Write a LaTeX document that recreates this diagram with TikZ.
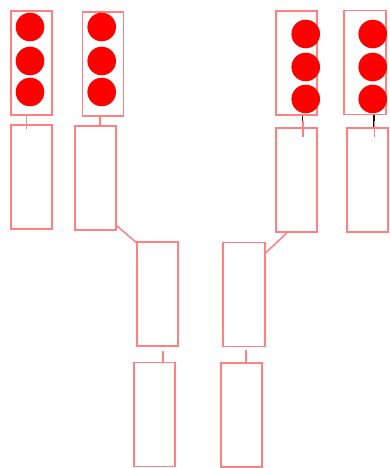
\documentclass[tikz,border=0pt]{standalone}
\usetikzlibrary{positioning}
\definecolor{rose}{RGB}{255,128,128}
\definecolor{lampred}{RGB}{255,0,0}
\definecolor{stem}{RGB}{20,20,20}
\tikzset{
  every picture/.style={line width=1.5pt},
  box/.style={draw=rose, fill=none, minimum width=41pt, minimum height=104pt, inner sep=0pt},
  lamp/.style={circle, fill=lampred, minimum size=28.6pt, inner sep=0pt},
  link/.style={draw=rose, line width=1.5pt},
  wire/.style={draw=stem, line width=1.5pt},
}

\begin{document}
\begin{tikzpicture}[x=1pt, y=-1pt]
  \useasboundingbox (0,0) rectangle (389,468);

  % signal heads
  \node[box] (head1) at (31.5,63) {};
  \node[box] (head2) at (103,64) {};
  \node[box] (head3) at (296.5,63) {};
  \node[box, minimum width=42pt] (head4) at (365,62.5) {};

  \node[lamp] (h1a) at (30,27) {};
  \node[lamp] (h1b) at (30,61) {};
  \node[lamp] (h1c) at (30,92) {};
  \node[lamp] (h2a) at (101.7,27) {};
  \node[lamp] (h2b) at (101.7,61) {};
  \node[lamp] (h2c) at (101.7,92) {};
  \node[lamp] (h3a) at (305.7,34) {};
  \node[lamp] (h3b) at (305.7,67) {};
  \node[lamp] (h3c) at (305.7,99) {};
  \node[lamp] (h4a) at (372.7,34) {};
  \node[lamp] (h4b) at (372.7,67) {};
  \node[lamp] (h4c) at (372.7,99) {};

  % posts
  \node[box] (post1) at (31.5,177) {};
  \node[box] (post2) at (95.5,178) {};
  \node[box] (post3) at (296.5,180) {};
  \node[box] (post4) at (367.5,180) {};

  % middle and lower blocks
  \node[box] (mid1) at (157.5,294) {};
  \node[box, minimum width=42pt] (mid2) at (244,294.5) {};
  \node[box] (base1) at (154.5,414.5) {};
  \node[box] (base2) at (241.5,415) {};

  % head to post
  \draw[wire, draw=gray!70] ([xshift=-4.8pt]head1.south) -- ([xshift=-4.8pt]head1.south |- post1.north);
  \draw[link] ([xshift=-4.8pt]head1.south |- post1.north) -- ([xshift=-4.8pt,yshift=-5pt]head1.south |- post1.north);
  \draw[link] ([xshift=-3pt]head2.south) -- ([xshift=-3pt]head2.south |- post2.north);
  \draw[wire] ([xshift=5.8pt]head3.south) -- ([xshift=5.8pt,yshift=-1pt]head3.south |- post3.north);
  \draw[link] ([xshift=6.5pt,yshift=6pt]head3.south |- post3.north) -- ([xshift=6.5pt,yshift=-10pt]head3.south |- post3.north);
  \draw[wire] ([xshift=9pt]head4.south) -- ([xshift=9pt]head4.south |- post4.north);
  \draw[link] ([xshift=9.7pt,yshift=6pt]head4.south |- post4.north) -- ([xshift=9.7pt,yshift=-10pt]head4.south |- post4.north);

  % post to middle
  \draw[link] ([yshift=5pt]post2.south east) -- ([xshift=-0.3pt,yshift=-1pt]mid1.north west);
  \draw[link] ([xshift=-9.5pt]post3.south) -- ([yshift=-11pt]mid2.north east);

  % middle to base
  \draw[link] ([xshift=5.5pt,yshift=-4pt]mid1.south) -- ([xshift=5.5pt]mid1.south |- base1.north);
  \draw[link] ([xshift=2pt,yshift=-3pt]mid2.south) -- ([xshift=2pt]mid2.south |- base2.north);
\end{tikzpicture}
\end{document}
